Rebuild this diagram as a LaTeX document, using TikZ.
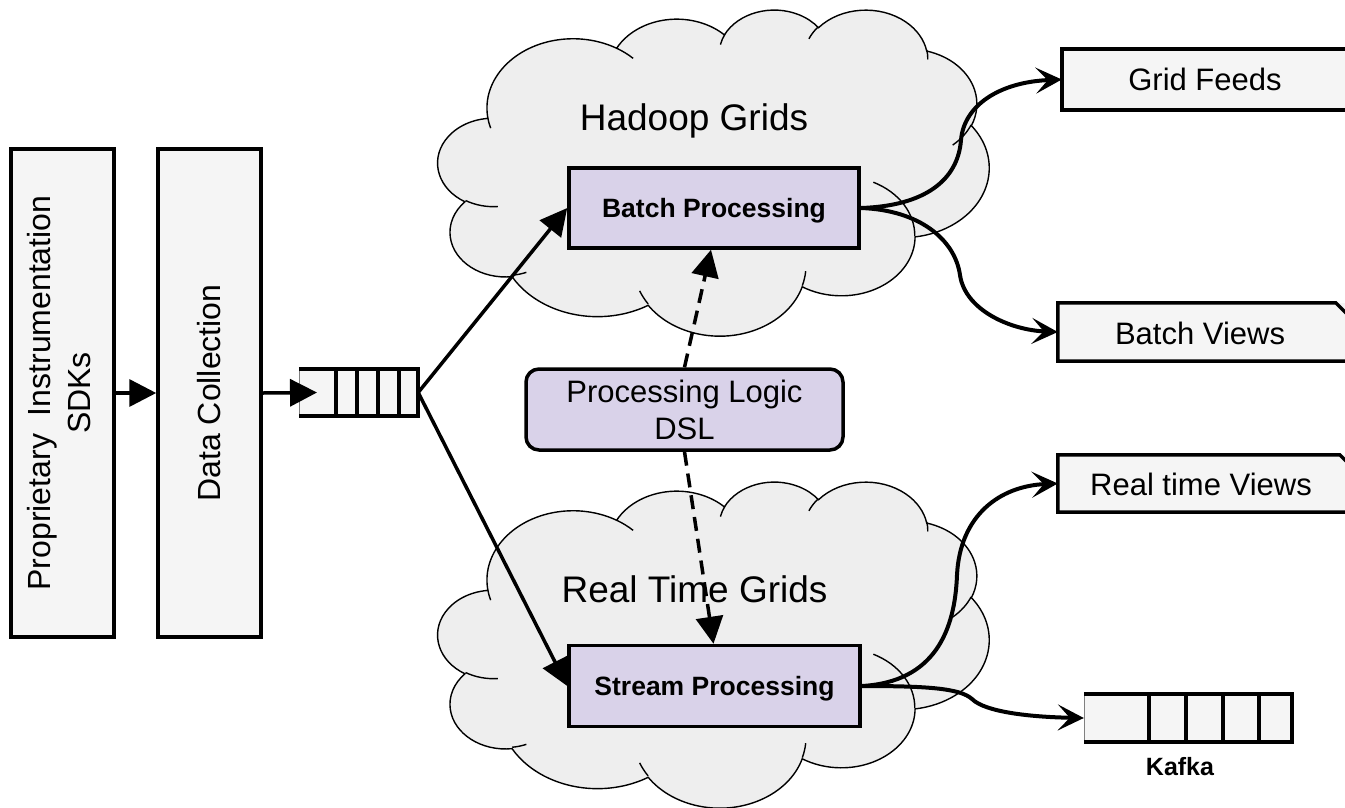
\documentclass[tikz,border=0pt]{standalone}
\usepackage{fontspec}
\setmainfont{Liberation Sans}
\usetikzlibrary{arrows.meta,calc}
\definecolor{boxfill}{HTML}{F5F5F5}
\definecolor{lav}{HTML}{D9D2E9}
\definecolor{cloudgray}{HTML}{EEEEEE}
% convert DrawingML visual angles to parametric angles
\newcommand\cldprep[5]{%
  \pgfmathsetmacro\cldtmpa{atan2((#2)*sin(#4),(#3)*cos(#4))}%
  \pgfmathsetmacro\cldtmpb{atan2((#2)*sin((#4)+(#5)),(#3)*cos((#4)+(#5)))}%
  \pgfmathsetmacro\cldtmpd{\cldtmpb-\cldtmpa}%
  \pgfmathsetmacro\cldtmpd{\cldtmpd-360*round((\cldtmpd-(#5))/360)}%
  \expandafter\xdef\csname cldS#1\endcsname{\cldtmpa}%
  \expandafter\xdef\csname cldD#1\endcsname{\cldtmpd}%
}
\cldprep{A}{67.53}{91.90}{-190.4875}{123.7805}
\cldprep{B}{53.33}{72.67}{-144.1024}{89.9452}
\cldprep{C}{43.65}{59.45}{-145.8079}{99.7230}
\cldprep{D}{48.57}{65.95}{-130.9861}{117.2417}
\cldprep{E}{53.33}{72.73}{-78.7089}{109.0269}
\cldprep{F}{67.75}{92.20}{-46.2673}{130.2690}
\cldprep{G}{57.85}{78.67}{0.6250}{114.0333}
\cldprep{H}{67.52}{92.15}{22.4516}{115.1726}
\cldprep{I}{77.20}{105.43}{66.2426}{75.7110}
\cldprep{J}{43.60}{59.18}{-274.9421}{146.7356}
\cldprep{K}{43.45}{59.45}{-246.8285}{152.5189}
\cldprep{a}{43.45}{59.45}{86.7420}{26.4295}
\cldprep{b}{43.60}{59.18}{73.6105}{11.4475}
\cldprep{c}{67.52}{92.15}{137.6242}{14.0811}
\cldprep{d}{67.52}{92.15}{6.4533}{15.9984}
\cldprep{e}{57.85}{78.67}{-70.2924}{70.9174}
\cldprep{f}{53.33}{72.73}{30.3180}{27.7515}
\cldprep{g}{48.57}{65.95}{-13.7443}{14.8589}
\cldprep{h}{48.57}{65.95}{-149.1815}{18.1954}
\cldprep{i}{43.65}{59.45}{-163.4943}{17.6864}
\cldprep{j}{67.53}{91.90}{-66.7070}{12.3194}
\cldprep{k}{67.53}{91.90}{157.6544}{11.8582}
\newcommand\cloudshape{%
  \path[fill=cloudgray, draw=black, line width=1.4pt] (39.00,143.70)
    arc[x radius=67.53, y radius=91.90, start angle=\cldSA, delta angle=\cldDA]
    arc[x radius=53.33, y radius=72.67, start angle=\cldSB, delta angle=\cldDB]
    arc[x radius=43.65, y radius=59.45, start angle=\cldSC, delta angle=\cldDC]
    arc[x radius=48.57, y radius=65.95, start angle=\cldSD, delta angle=\cldDD]
    arc[x radius=53.33, y radius=72.73, start angle=\cldSE, delta angle=\cldDE]
    arc[x radius=67.75, y radius=92.20, start angle=\cldSF, delta angle=\cldDF]
    arc[x radius=57.85, y radius=78.67, start angle=\cldSG, delta angle=\cldDG]
    arc[x radius=67.52, y radius=92.15, start angle=\cldSH, delta angle=\cldDH]
    arc[x radius=77.20, y radius=105.43, start angle=\cldSI, delta angle=\cldDI]
    arc[x radius=43.60, y radius=59.18, start angle=\cldSJ, delta angle=\cldDJ]
    arc[x radius=43.45, y radius=59.45, start angle=\cldSK, delta angle=\cldDK]
    -- cycle;
  \draw[line width=1.4pt]
    (46.93,261.77) arc[x radius=43.45, y radius=59.45, start angle=\cldSa, delta angle=\cldDa]
    (69.28,348.99) arc[x radius=43.60, y radius=59.18, start angle=\cldSb, delta angle=\cldDb]
    (164.78,390.90) arc[x radius=67.52, y radius=92.15, start angle=\cldSc, delta angle=\cldDc]
    (288.27,347.51) arc[x radius=67.52, y radius=92.15, start angle=\cldSd, delta angle=\cldDd]
    (341.29,229.54) arc[x radius=57.85, y radius=78.67, start angle=\cldSe, delta angle=\cldDe]
    (417.98,153.54) arc[x radius=53.33, y radius=72.73, start angle=\cldSf, delta angle=\cldDf]
    (383.24,54.26) arc[x radius=48.57, y radius=65.95, start angle=\cldSg, delta angle=\cldDg]
    (290.78,39.52) arc[x radius=48.57, y radius=65.95, start angle=\cldSh, delta angle=\cldDh]
    (221.41,47.20) arc[x radius=43.65, y radius=59.45, start angle=\cldSi, delta angle=\cldDi]
    (140.00,51.92) arc[x radius=67.53, y radius=91.90, start angle=\cldSj, delta angle=\cldDj]
    (41.27,157.89) arc[x radius=67.53, y radius=91.90, start angle=\cldSk, delta angle=\cldDk];
}
\tikzset{
  boxst/.style={draw=black, line width=3.5pt, fill=boxfill, inner sep=0pt},
  procst/.style={draw=black, line width=3.5pt, fill=lav, inner sep=0pt,
    text height=19pt, text depth=0pt, font=\fontsize{26.5}{30}\selectfont\bfseries},
  rbox/.style={fill=boxfill, inner sep=0pt, font=\fontsize{31}{37}\selectfont},
  outline/.style={draw=black, line width=3.5pt, fill=boxfill},
  arr/.style={line width=3.5pt, -{Triangle[length=27pt,width=27pt]}},
  darr/.style={arr, dash pattern=on 14pt off 8pt},
  carr/.style={line width=4pt, -{Stealth[length=26pt,width=26pt,inset=12pt]}},
  cloudtext/.style={anchor=base, font=\fontsize{37}{44}\selectfont},
}
\begin{document}
\begin{tikzpicture}[x=1pt, y=-1pt]
\useasboundingbox (0,0) rectangle (1345,807);
\clip (0,0) rectangle (1345,807);

% clouds
\begin{scope}[shift={(438,9)}, x=1.2755pt, y=-0.7546pt]
  \cloudshape
\end{scope}
\begin{scope}[shift={(438,481)}, x=1.2755pt, y=-0.7546pt]
  \cloudshape
\end{scope}
\node[cloudtext] (hg) at (694,130) {Hadoop Grids};
\node[cloudtext] (rg) at (694.5,602) {Real Time Grids};

% left boxes
\node[boxst, minimum width=103pt, minimum height=488pt] (sdk) at (62.5,393)
  {\rotatebox{90}{\fontsize{32}{40}\selectfont\begin{tabular}{@{}c@{}}Proprietary\ \ Instrumentation\\SDKs\end{tabular}}};
\node[boxst, minimum width=103pt, minimum height=488pt] (dc) at (209.5,393)
  {\rotatebox{90}{\fontsize{32}{40}\selectfont Data Collection}};

% input queue
\node[fill=boxfill, inner sep=0pt, minimum width=119pt, minimum height=47pt] (q) at (358.5,392.5) {};
\draw[line width=0.6pt, gray] (q.north west) -- (q.south west);
\draw[line width=3.5pt] (q.north west) -- (q.north east) -- (q.south east) -- (q.south west);
\foreach \xx in {336,357,378,399} \draw[line width=3.5pt] (\xx,369) -- (\xx,416);
\coordinate (q1) at (317,392.5);

% processing boxes
\node[procst, minimum width=290pt, minimum height=80pt] (batch) at (714,208) {Batch Processing};
\node[procst, minimum width=291pt, minimum height=81pt] (stream) at (714.5,686) {Stream Processing};
\node[draw=black, line width=3.5pt, fill=lav, rounded corners=13pt, inner sep=0pt,
  minimum width=317pt, minimum height=81pt, align=center,
  font=\fontsize{31}{37}\selectfont] (dsl) at (684.5,409.5) {Processing Logic\\DSL};

% right outputs
\node[rbox, minimum width=300pt, minimum height=61pt] (gf) at (1212,79.5) {\hspace*{-14pt}Grid Feeds};
\draw[line width=3.5pt] (gf.north east) -- (gf.north west) -- (gf.south west) -- (gf.south east);

\node[rbox, minimum width=300pt, minimum height=58pt] (bv) at (1208,332) {};
\draw[outline] (bv.south east) -- (bv.south west) -- (bv.north west)
  -- ($(bv.north west)+(278,0)$) -- ($(bv.north west)+(308,30)$) -- ($(bv.south west)+(308,0)$);
\node[rbox] (bvt) at (1200,333) {Batch Views};

\node[rbox, minimum width=300pt, minimum height=57pt] (rv) at (1208,483.5) {};
\draw[outline] (rv.south east) -- (rv.south west) -- (rv.north west)
  -- ($(rv.north west)+(282,0)$) -- ($(rv.north west)+(312,30)$) -- ($(rv.south west)+(312,0)$);
\node[rbox] (rvt) at (1201,484.5) {Real time Views};

% kafka queue
\node[fill=boxfill, inner sep=0pt, minimum width=208pt, minimum height=48pt] (kq) at (1188,718) {};
\draw[line width=0.6pt, gray] (kq.north west) -- (kq.south west);
\draw[line width=3.5pt] (kq.north west) -- (kq.north east) -- (kq.south east) -- (kq.south west);
\foreach \xx in {1149,1186,1223,1259} \draw[line width=3.5pt] (\xx,694) -- (\xx,742);
\node[anchor=base, font=\fontsize{25}{30}\selectfont\bfseries] (kl) at (1180,775) {Kafka};

% connectors
\draw[arr] (sdk.east) -- (dc.west);
\draw[arr] (dc.east) -- (q1);
\draw[arr] (q.east) -- (batch.west);
\draw[arr] (q.east) -- (stream.west);
\draw[darr] (dsl.north) -- ($(batch.south)+(-3,0)$);
\draw[darr] (dsl.south) -- ($(stream.north)+(-1,0)$);

\draw[carr] (batch.east) .. controls (925,206) and (958,180) .. (961,140)
  .. controls (964,105) and (1000,82) .. (gf.west);
\draw[carr] (batch.east) .. controls (920,210) and (955,240) .. (960,275)
  .. controls (965,310) and (1010,330) .. (bv.west);
\draw[carr] (stream.east) .. controls (935,682) and (955,630) .. (957,575)
  .. controls (960,515) and (1000,486) .. (rv.west);
\draw[carr] (stream.east) .. controls (925,686) and (960,688) .. (972,699)
  .. controls (985,712) and (1030,717) .. (kq.west);
\end{tikzpicture}
\end{document}
